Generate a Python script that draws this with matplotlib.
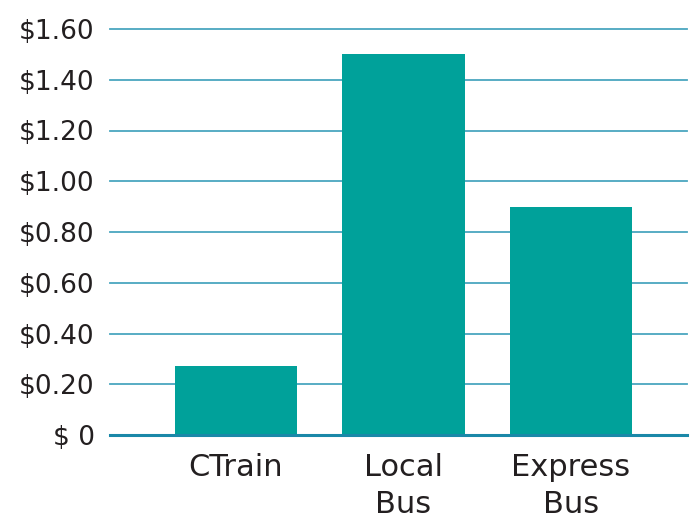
import matplotlib
matplotlib.use("Agg")
import matplotlib.pyplot as plt

categories = ["CTrain", "Local\nBus", "Express\nBus"]
values = [0.27, 1.50, 0.90]
yticks = [0, 0.2, 0.4, 0.6, 0.8, 1.0, 1.2, 1.4, 1.6]
ytick_labels = ["$ 0", "$0.20", "$0.40", "$0.60", "$0.80", "$1.00", "$1.20", "$1.40", "$1.60"]

W, H = 692, 519
fig = plt.figure(figsize=(W / 100, H / 100), dpi=100)
ax = fig.add_axes([110 / W, 1 - 435 / H, (687 - 110) / W, (435 - 29) / H])

x = list(range(len(categories)))
ax.bar(x, values, width=0.73, color="#00a19a", zorder=3)
ax.set_ylim(0, 1.6)
ax.set_xlim(-0.752, 2.693)
ax.set_yticks(yticks)
ax.set_yticklabels(ytick_labels)
ax.set_xticks(x)
ax.set_xticklabels(categories)
for y in yticks[1:]:
    ax.axhline(y, color="#4aa6bf", lw=1.3, zorder=1, clip_on=False)
ax.axhline(0, color="#1a88a8", lw=2.2, zorder=4, clip_on=False)
for s in ax.spines.values():
    s.set_visible(False)
ax.tick_params(axis="both", length=0, labelcolor="#231f20")
ax.tick_params(axis="y", pad=11, labelsize=19)
ax.tick_params(axis="x", pad=13, labelsize=22)
for lab in ax.get_xticklabels():
    lab.set_linespacing(1.35)
fig.savefig("out.png", dpi=100)
